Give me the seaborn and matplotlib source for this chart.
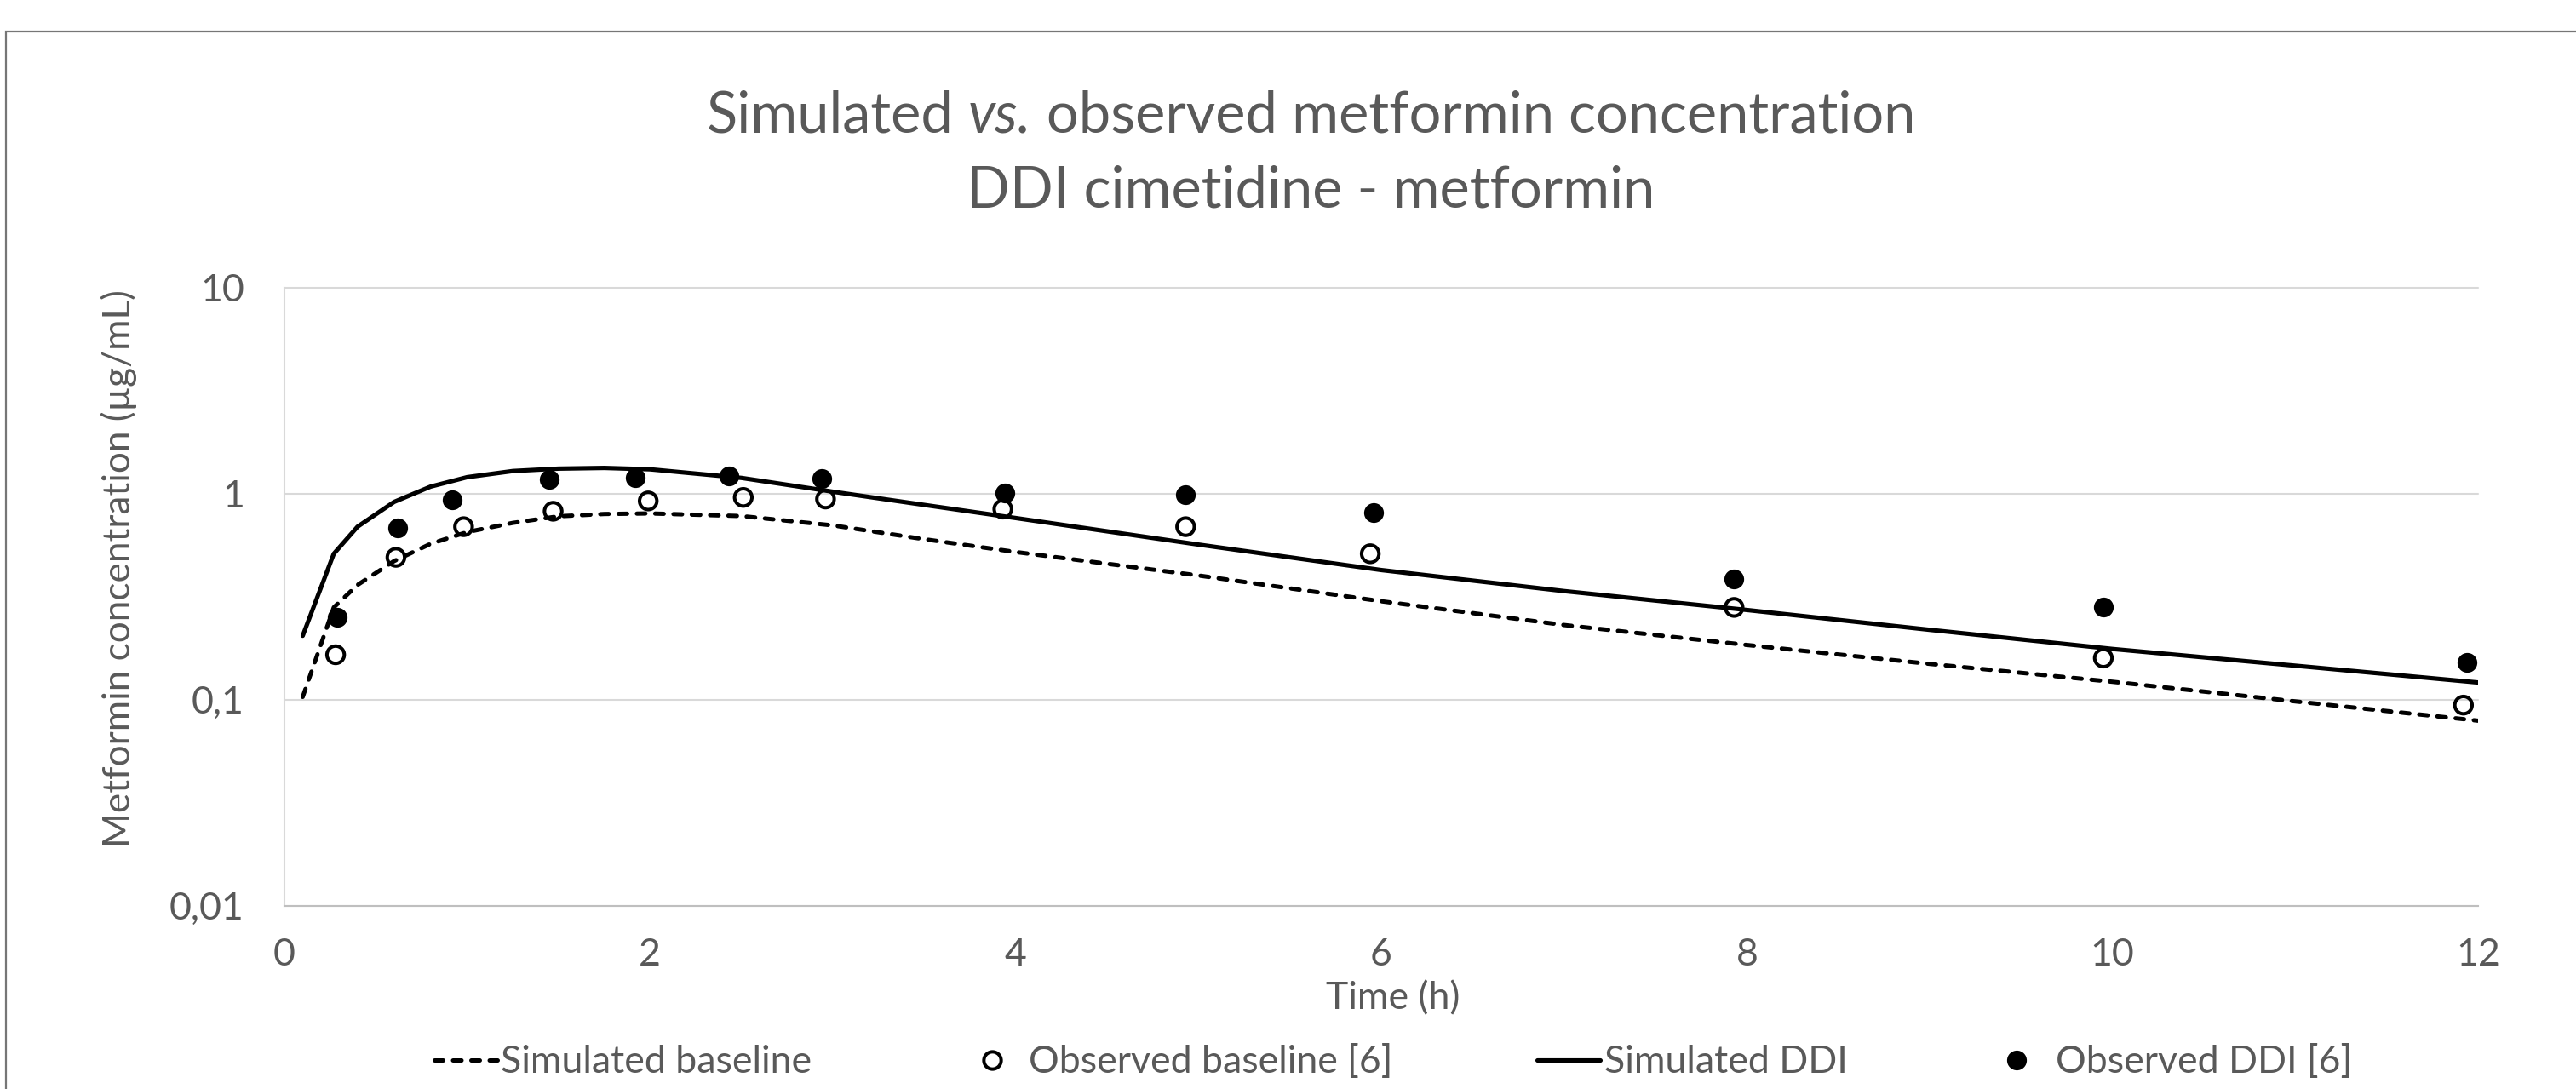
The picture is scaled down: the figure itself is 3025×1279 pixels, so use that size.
import matplotlib
matplotlib.use("Agg")
import matplotlib.pyplot as plt
import numpy as np
import pandas as pd
import seaborn as sns
from matplotlib.lines import Line2D
from matplotlib.patches import Rectangle
from matplotlib.ticker import NullLocator

# ---------------- data ----------------
sim_time = [0.1, 0.27, 0.4, 0.6, 0.8, 1.0, 1.25, 1.5, 1.75, 2.0, 2.5, 3.0, 3.5,
            4.0, 5.0, 6.0, 7.0, 8.0, 9.0, 10.0, 11.0, 12.0]
sim_baseline = [0.103, 0.28, 0.36, 0.47, 0.57, 0.65, 0.72, 0.775, 0.795, 0.80, 0.777,
                0.70, 0.60, 0.52, 0.40, 0.30, 0.23, 0.184, 0.149, 0.122, 0.098, 0.079]
sim_ddi = [0.204, 0.51, 0.69, 0.91, 1.08, 1.20, 1.285, 1.32, 1.33, 1.31, 1.19,
           1.02, 0.88, 0.76, 0.565, 0.425, 0.336, 0.272, 0.218, 0.176, 0.146, 0.121]

obs_base_time = [0.28, 0.61, 0.98, 1.47, 1.99, 2.51, 2.96, 3.93, 4.93, 5.94, 7.93, 9.95, 11.92]
obs_base_conc = [0.165, 0.49, 0.69, 0.82, 0.92, 0.957, 0.94, 0.84, 0.69, 0.51, 0.28, 0.159, 0.094]

obs_ddi_time = [0.29, 0.62, 0.92, 1.45, 1.92, 2.43, 2.94, 3.94, 4.93, 5.96, 7.93, 9.95, 11.94]
obs_ddi_conc = [0.25, 0.68, 0.93, 1.17, 1.19, 1.22, 1.18, 1.01, 0.99, 0.81, 0.385, 0.28, 0.151]

y_ticks = [0.01, 0.1, 1, 10]
y_ticklabels = ["0,01", "0,1", "1", "10"]
x_ticks = [0, 2, 4, 6, 8, 10, 12]

title_parts = ["Simulated", "vs.", "observed metformin concentration"]
title_line2 = "DDI cimetidine - metformin"
x_label = "Time (h)"
y_label = "Metformin concentration (µg/mL)"
legend_labels = ["Simulated baseline", "Observed baseline [6]", "Simulated DDI", "Observed DDI [6]"]

# ---------------- style ----------------
W, H, DPI = 3025, 1279, 100
TXT = "#595959"
sns.set_theme(style="white")
plt.rcParams["font.family"] = ["Lato", "DejaVu Sans"]

fig = plt.figure(figsize=(W / DPI, H / DPI), dpi=DPI)
fig.patch.set_facecolor("white")
renderer = fig.canvas.get_renderer()


def text_width(s, size, style="normal"):
    t = fig.text(0, 0, s, fontsize=size, style=style)
    w = t.get_window_extent(renderer=renderer).width
    t.remove()
    return w


def title1_width(size):
    sp = text_width("a a", size) - text_width("aa", size)
    ws = [text_width(title_parts[0], size), text_width(title_parts[1], size, "italic"),
          text_width(title_parts[2], size)]
    return ws, sp


ws10, sp10 = title1_width(10)
fs_title = 10 * 1423 / (sum(ws10) + 2 * sp10)
fs_small = 10 * 366 / text_width(legend_labels[0], 10)
fs_ylab = 10 * 655 / text_width(y_label, 10)

# plot area in pixels
L, R, T, B = 334, 2910, 337.5, 1063.7
ax = fig.add_axes([L / W, 1 - B / H, (R - L) / W, (B - T) / H])
ax.set_yscale("log")

sim = pd.DataFrame({"time": sim_time, "baseline": sim_baseline, "ddi": sim_ddi})
obs_b = pd.DataFrame({"time": obs_base_time, "conc": obs_base_conc})
obs_d = pd.DataFrame({"time": obs_ddi_time, "conc": obs_ddi_conc})

LW = 3.7
LWD = 3.6
DASH = (2.0, 2.3)
sns.lineplot(data=sim, x="time", y="baseline", ax=ax, color="black", lw=LWD,
             sort=False, errorbar=None, zorder=3)
ln_b = ax.lines[-1]
ln_b.set_dashes(DASH)
ln_b.set_dash_capstyle("round")

sns.scatterplot(data=obs_b, x="time", y="conc", ax=ax, marker="o", s=215,
                color="black", edgecolor="black", linewidth=2.9, zorder=4)
ax.collections[-1].set_facecolor("none")

sns.lineplot(data=sim, x="time", y="ddi", ax=ax, color="black", lw=LW,
             sort=False, errorbar=None, zorder=5)
ax.lines[-1].set_solid_capstyle("round")
ax.lines[-1].set_solid_joinstyle("round")

sns.scatterplot(data=obs_d, x="time", y="conc", ax=ax, marker="o", s=280,
                color="black", linewidth=0, zorder=6)

ax.set_xlim(0, 12)
ax.set_ylim(0.01, 10)
ax.set_yticks(y_ticks)
ax.set_yticklabels(y_ticklabels)
ax.yaxis.set_minor_locator(NullLocator())
ax.set_xticks(x_ticks)
ax.set_xticklabels([str(v) for v in x_ticks])
ax.tick_params(axis="both", length=0, labelsize=fs_small, labelcolor=TXT)
ax.tick_params(axis="y", pad=34)
ax.tick_params(axis="x", pad=27)

ax.grid(axis="y", color="#d9d9d9", lw=1.5)
ax.grid(axis="x", visible=False)
for gl in ax.get_ygridlines():
    gl.set_clip_on(False)
ax.spines["top"].set_visible(False)
ax.spines["right"].set_visible(False)
ax.spines["left"].set_color("#d9d9d9")
ax.spines["left"].set_linewidth(1.5)
ax.spines["bottom"].set_color("#bfbfbf")
ax.spines["bottom"].set_linewidth(1.5)
ax.set_facecolor("white")

ax.set_xlabel(x_label, fontsize=fs_small, color=TXT)
ax.xaxis.set_label_coords((1636 - L) / (R - L), (B - 1173) / (B - T))
ax.xaxis.label.set_va("center")
ax.set_ylabel(y_label, fontsize=fs_ylab, color=TXT)
ax.yaxis.set_label_coords((140 - L) / (R - L), (B - 668) / (B - T))
ax.yaxis.label.set_va("center")
ax.yaxis.label.set_ha("center")

# title: line 1 composed of three pieces (middle one italic)
ws, sp = title1_width(fs_title)
total = sum(ws) + 2 * sp
x = 1539.5 - total / 2
styles = ["normal", "italic", "normal"]
for part, w, st in zip(title_parts, ws, styles):
    fig.text(x / W, 1 - 155 / H, part, ha="left", va="baseline",
             fontsize=fs_title, color=TXT, style=st)
    x += w + sp
fig.text(1539.5 / W, 1 - 243 / H, title_line2, ha="center", va="baseline",
         fontsize=fs_title, color=TXT)

# legend (four single-entry legends placed along the bottom)
fs_px = fs_small * DPI / 72.0
h_dash = Line2D([], [], color="black", lw=LWD, dashes=DASH, dash_capstyle="round")
h_open = Line2D([], [], ls="none", marker="o", ms=14.6, mfc="none", mec="black", mew=2.9)
h_solid = Line2D([], [], color="black", lw=LW, solid_capstyle="round")
h_fill = Line2D([], [], ls="none", marker="o", ms=16.7, mfc="black", mec="black", mew=0)

legend_spec = [
    (h_dash, legend_labels[0], 510, 74, 4),
    (h_open, legend_labels[1], 1145, 40, 23),
    (h_solid, legend_labels[2], 1805, 74, 5),
    (h_fill, legend_labels[3], 2348, 40, 26),
]
y_leg = 1 - 1248 / H
for handle, lab, x0, hl, tp in legend_spec:
    fig.legend(handles=[handle], labels=[lab], loc="center left",
               bbox_to_anchor=(x0 / W, y_leg), frameon=False, borderpad=0,
               borderaxespad=0, handlelength=hl / fs_px, handletextpad=tp / fs_px,
               fontsize=fs_small, labelcolor=TXT)

# chart-area border (cropped at right and bottom in the reference)
fig.patches.append(Rectangle((7 / W, -0.1), 1.2, (1 - 37 / H) + 0.1,
                             transform=fig.transFigure, fill=False,
                             edgecolor="#767676", lw=1.6, zorder=0))

fig.savefig("out.png", dpi=DPI, facecolor="white")
